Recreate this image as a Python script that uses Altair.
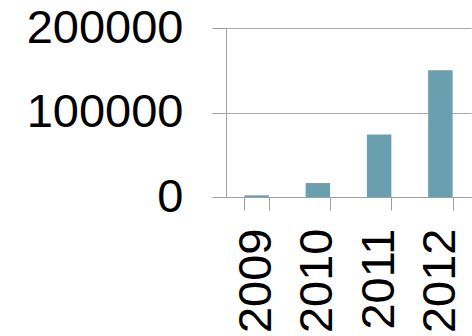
import altair as alt
import pandas as pd

years = ["2009", "2010", "2011", "2012"]
values = [2000, 16500, 74000, 150000]
y_ticks = [0, 100000, 200000]

df = pd.DataFrame({"year": years, "value": values})

chart = alt.Chart(df).mark_bar(color="#6a9fb0").encode(
    x=alt.X(
        "year:N",
        sort=years,
        title=None,
        scale=alt.Scale(paddingInner=0.6, paddingOuter=0.3),
        axis=alt.Axis(
            labelAngle=270,
            labelFontSize=47,
            labelFont="Liberation Sans",
            labelColor="#000000",
            labelPadding=18,
            labelAlign="right",
            labelBaseline="middle",
            tickBand="extent",
            tickSize=13,
            tickColor="#a0a0a0",
            domainColor="#a0a0a0",
            grid=False,
        ),
    ),
    y=alt.Y(
        "value:Q",
        title=None,
        scale=alt.Scale(domain=[0, 200000], nice=False),
        axis=alt.Axis(
            values=y_ticks,
            format="d",
            labelFontSize=47,
            labelFont="Liberation Sans",
            labelColor="#000000",
            labelPadding=29,
            tickSize=14,
            tickColor="#a0a0a0",
            domainColor="#a0a0a0",
            gridColor="#a8a8a8",
            grid=True,
        ),
    ),
).properties(
    width=245,
    height=169,
    autosize=alt.AutoSizeParams(type="none"),
    padding={"left": 226, "top": 28, "right": 1, "bottom": 139},
    background="white",
).configure_view(stroke=None)

chart.save("out.html", embed_options={"renderer": "svg", "actions": False})
